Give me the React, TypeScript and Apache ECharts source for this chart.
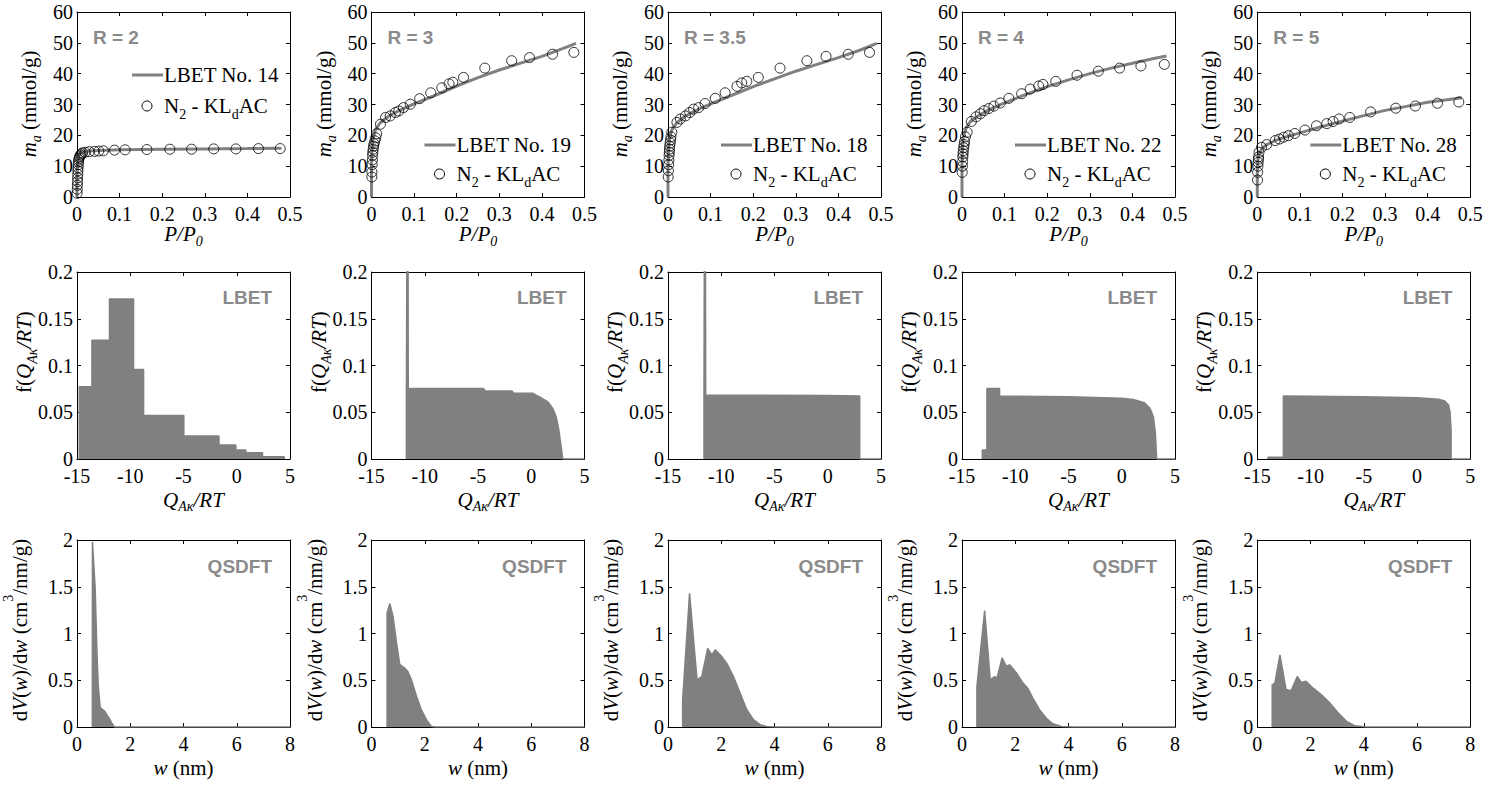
import React, { useEffect, useRef } from "react";
import * as echarts from "echarts";

// ---------------- DATA ----------------
// Row 1: N2 isotherms (P/P0 vs m_a, mmol/g)
const panelTags = ["R = 2", "R = 3", "R = 3.5", "R = 4", "R = 5"];
const lbetNames = ["LBET No. 14", "LBET No. 19", "LBET No. 18", "LBET No. 22", "LBET No. 28"];
const isoXTicks = [0, 0.5, 0.1];
const isoYTicks = [0, 60, 10];

const exp1X = [0.0003, 0.0006, 0.0009, 0.0012, 0.0015, 0.0018, 0.0021, 0.0025, 0.003, 0.0035, 0.004, 0.005, 0.006, 0.008, 0.01, 0.013, 0.019, 0.029, 0.041, 0.051, 0.062, 0.088, 0.113, 0.164, 0.218, 0.269, 0.321, 0.373, 0.426, 0.477];
const exp1Y = [1.2, 2.5, 3.8, 5.0, 6.2, 7.4, 8.5, 9.5, 10.5, 11.3, 12.0, 12.6, 13.1, 13.6, 14.0, 14.3, 14.5, 14.7, 14.8, 14.9, 15.0, 15.2, 15.3, 15.4, 15.5, 15.5, 15.6, 15.6, 15.7, 15.7];
const lbet1X = [0, 0, 0.001, 0.003, 0.006, 0.01, 0.02, 0.05, 0.1, 0.2, 0.3, 0.4, 0.48];
const lbet1Y = [0, 6, 11, 13.2, 14, 14.4, 14.8, 15.1, 15.3, 15.5, 15.6, 15.7, 15.8];

const exp2X = [0.0008, 0.001, 0.0015, 0.002, 0.0025, 0.003, 0.004, 0.005, 0.006, 0.008, 0.01, 0.012, 0.021, 0.033, 0.044, 0.056, 0.064, 0.075, 0.091, 0.113, 0.139, 0.165, 0.182, 0.191, 0.216, 0.266, 0.329, 0.371, 0.425, 0.475];
const exp2Y = [6.5, 8.1, 10.5, 12, 13.5, 14.5, 15.5, 16.5, 17.3, 18.2, 19.2, 20.5, 23.6, 25.8, 26.3, 27.4, 27.9, 29.0, 30.1, 31.9, 33.8, 35.4, 36.7, 37.2, 38.8, 41.8, 44.2, 45.2, 46.3, 46.9];
const lbet2X = [0, 0, 0.001, 0.003, 0.006, 0.01, 0.02, 0.04, 0.06, 0.08, 0.1, 0.15, 0.2, 0.25, 0.3, 0.35, 0.4, 0.45, 0.48];
const lbet2Y = [0, 10, 15, 18.5, 20.5, 22, 24, 26.2, 27.7, 29, 30.2, 33, 36, 38.7, 41.2, 43.4, 45.6, 48.2, 49.8];

const exp3X = [0.0005, 0.001, 0.0015, 0.002, 0.0025, 0.003, 0.0035, 0.004, 0.005, 0.006, 0.007, 0.009, 0.021, 0.029, 0.041, 0.051, 0.060, 0.072, 0.087, 0.111, 0.134, 0.162, 0.173, 0.185, 0.212, 0.263, 0.326, 0.371, 0.423, 0.473];
const exp3Y = [6.5, 8.5, 10.5, 12, 13.5, 14.5, 15.5, 16.5, 17.5, 18.5, 19.5, 21, 24.2, 25.3, 26.3, 27.4, 28.5, 29.0, 30.3, 32.0, 33.8, 35.9, 37.0, 37.5, 38.8, 41.8, 44.2, 45.6, 46.3, 46.9];
const lbet3X = [0, 0, 0.001, 0.003, 0.006, 0.01, 0.02, 0.04, 0.06, 0.08, 0.1, 0.15, 0.2, 0.25, 0.3, 0.35, 0.4, 0.45, 0.49];
const lbet3Y = [0, 10, 15, 18.5, 20.5, 22, 24, 26.2, 27.7, 29, 30.2, 33, 35.8, 38.3, 40.8, 43, 45.2, 47.6, 49.8];

const exp4X = [0.0005, 0.001, 0.0015, 0.002, 0.0025, 0.003, 0.004, 0.005, 0.006, 0.008, 0.012, 0.022, 0.033, 0.043, 0.052, 0.063, 0.075, 0.09, 0.11, 0.14, 0.16, 0.18, 0.19, 0.22, 0.27, 0.32, 0.37, 0.42, 0.475];
const exp4Y = [8, 10, 11.5, 13, 14, 15, 16, 17, 18, 19.5, 21, 24.5, 26, 27, 28, 28.7, 29.5, 30.5, 32, 33.5, 35, 36, 36.5, 37.5, 39.5, 40.8, 41.8, 42.5, 43];
const lbet4X = [0, 0, 0.001, 0.003, 0.01, 0.02, 0.04, 0.06, 0.08, 0.1, 0.15, 0.2, 0.25, 0.3, 0.35, 0.4, 0.45, 0.48];
const lbet4Y = [0, 10, 16, 19.5, 22.5, 24.5, 26.5, 28, 29.3, 30.5, 33.3, 35.8, 38, 40, 41.8, 43.4, 44.9, 45.7];

const exp5X = [0.0005, 0.001, 0.0015, 0.002, 0.0025, 0.003, 0.004, 0.010, 0.022, 0.042, 0.052, 0.062, 0.073, 0.088, 0.112, 0.139, 0.163, 0.178, 0.192, 0.217, 0.266, 0.325, 0.371, 0.423, 0.473];
const exp5Y = [5.5, 8, 10, 11.2, 12.2, 13, 14.5, 16.1, 17.0, 18.3, 18.8, 19.4, 19.9, 20.6, 21.7, 23.1, 23.8, 24.5, 25.3, 25.8, 27.6, 28.8, 29.5, 30.4, 30.8];
const lbet5X = [0, 0, 0.001, 0.003, 0.01, 0.02, 0.04, 0.06, 0.08, 0.1, 0.15, 0.2, 0.25, 0.3, 0.35, 0.4, 0.45, 0.48];
const lbet5Y = [0, 8, 11.5, 13.5, 15.5, 16.8, 18.2, 19.2, 20, 20.8, 22.8, 24.6, 26.4, 28.1, 29.4, 30.7, 31.6, 32.2];

// Row 2: LBET energy distributions f(Q/RT)
const qXTicks = [-15, 5, 5];
const qYTicks = [0, 0.2, 0.05];
const hist1Edges = [-14.78, -13.6, -11.95, -9.69, -8.75, -4.97, -1.67, -0.09, 0.85, 2.42, 4.46];
const hist1Heights = [0.0772, 0.127, 0.171, 0.0958, 0.0466, 0.0246, 0.015, 0.0096, 0.0068, 0.0025];
const dist2Q = [-11.72, -11.72, -11.6, -11.55, -4.5, -4.3, -1.8, -1.65, 0.15, 0.78, 1.56, 2.02, 2.34, 2.59, 2.81, 2.96, 5];
const dist2F = [0, 0.0755, 0.5, 0.0755, 0.0755, 0.0726, 0.0726, 0.0702, 0.0702, 0.0665, 0.0612, 0.0541, 0.0452, 0.031, 0.0131, 0, 0];
const dist3Q = [-11.62, -11.62, -11.53, -11.46, 0, 3.0, 3.0, 5];
const dist3F = [0, 0.0685, 0.5, 0.0685, 0.068, 0.0675, 0, 0];
const dist4Q = [-13.09, -13.09, -12.66, -12.66, -11.47, -11.47, -5, 0, 1.06, 2.13, 2.66, 2.97, 3.16, 3.28, 5];
const dist4F = [0, 0.0096, 0.0096, 0.0755, 0.0755, 0.0673, 0.0665, 0.065, 0.0637, 0.0602, 0.0541, 0.0452, 0.0274, 0, 0];
const dist5Q = [-14.0, -14.0, -12.55, -12.55, -5, 0, 2.0, 2.6, 2.95, 3.1, 3.2, 3.2, 5];
const dist5F = [0, 0.002, 0.002, 0.0675, 0.0665, 0.0655, 0.064, 0.062, 0.058, 0.05, 0.03, 0, 0];

// Row 3: QSDFT pore size distributions dV/dw
const wXTicks = [0, 8, 2];
const wYTicks = [0, 2, 0.5];
const psd1W = [0.577, 0.58, 0.68, 0.75, 0.80, 0.87, 0.95, 1.05, 1.15, 1.24, 1.32, 1.41, 8];
const psd1V = [0, 1.98, 1.5, 0.79, 0.43, 0.21, 0.19, 0.165, 0.12, 0.078, 0.035, 0, 0];
const psd2W = [0.585, 0.585, 0.69, 0.81, 0.94, 1.06, 1.25, 1.37, 1.5, 1.69, 1.87, 2.06, 2.25, 2.4, 8];
const psd2V = [0, 1.22, 1.32, 1.18, 0.9, 0.67, 0.63, 0.59, 0.505, 0.33, 0.185, 0.078, 0.006, 0, 0];
const psd3W = [0.55, 0.55, 0.81, 1.09, 1.27, 1.49, 1.65, 1.77, 2.03, 2.21, 2.46, 2.71, 2.96, 3.21, 3.46, 3.71, 4.1, 8];
const psd3V = [0, 0.29, 1.43, 0.505, 0.54, 0.84, 0.77, 0.825, 0.75, 0.68, 0.54, 0.36, 0.185, 0.078, 0.025, 0.006, 0, 0];
const psd4W = [0.56, 0.56, 0.85, 1.06, 1.23, 1.31, 1.51, 1.66, 1.79, 2.04, 2.29, 2.47, 2.66, 2.91, 3.16, 3.41, 3.73, 4.16, 8];
const psd4V = [0, 0.43, 1.245, 0.505, 0.54, 0.52, 0.74, 0.65, 0.665, 0.58, 0.47, 0.415, 0.31, 0.185, 0.096, 0.035, 0.006, 0, 0];
const psd5W = [0.56, 0.56, 0.66, 0.85, 1.08, 1.23, 1.29, 1.5, 1.66, 1.83, 2.1, 2.41, 2.73, 3.04, 3.35, 3.66, 4.1, 8];
const psd5V = [0, 0.45, 0.47, 0.77, 0.40, 0.39, 0.40, 0.54, 0.475, 0.49, 0.415, 0.345, 0.255, 0.15, 0.06, 0.014, 0, 0];

// ---------------- STYLE / LAYOUT ----------------
const GRAY = "#808080";
const TAG_GRAY = "#8a8a8a";
const SERIF = "Liberation Serif";
const SANS = "Liberation Sans";
const FS = 21;
const TFS = 20;
const SFS = 14;
const COL_LEFT = [77, 371.5, 668, 962, 1257.3];
const PW = 213;
const ROW_TOP = [12, 272, 540];
const ROW_H = [185, 187, 187];

function pairs(xs: number[], ys: number[]) {
  return xs.map((x, i) => [x, ys[i]]);
}
function histPairs(edges: number[], h: number[]) {
  const out: number[][] = [[edges[0], 0]];
  for (let i = 0; i < h.length; i++) {
    out.push([edges[i], h[i]]);
    out.push([edges[i + 1], h[i]]);
  }
  out.push([edges[edges.length - 1], 0]);
  return out;
}

function rich(L: number, sl: number) {
  return {
    n: { fontFamily: SERIF, fontSize: FS, lineHeight: L, fill: "#000" },
    i: { fontFamily: SERIF, fontSize: FS, lineHeight: L, fontStyle: "italic", fill: "#000" },
    s: { fontFamily: SERIF, fontSize: SFS, lineHeight: sl, verticalAlign: "bottom", fill: "#000" },
    si: { fontFamily: SERIF, fontSize: SFS, lineHeight: sl, verticalAlign: "bottom", fontStyle: "italic", fill: "#000" },
    p: { fontFamily: SERIF, fontSize: SFS, lineHeight: sl, verticalAlign: "top", fill: "#000" },
  };
}

function txt(x: number, y: number, text: string, L: number, rot = 0, align = "center", sl = 14) {
  return {
    type: "text",
    x,
    y,
    rotation: rot,
    silent: true,
    z: 50,
    style: { text, rich: rich(L, sl), align, verticalAlign: "middle", fill: "#000", fontFamily: SERIF, fontSize: FS },
  };
}

function buildOption() {
  const grid: any[] = [];
  const xAxis: any[] = [];
  const yAxis: any[] = [];
  const series: any[] = [];
  const graphic: any[] = [];

  const axisBase = (gi: number, t: number[], pos: string, labels: boolean, margin: number, lh: number) => ({
    type: "value",
    gridIndex: gi,
    min: t[0],
    max: t[1],
    interval: t[2],
    position: pos,
    axisLine: { show: true, onZero: false, lineStyle: { color: "#000", width: 1 } },
    axisTick: { show: true, inside: true, length: 4, lineStyle: { color: "#000", width: 1 } },
    axisLabel: { show: labels, margin, color: "#000", fontFamily: SERIF, fontSize: TFS, lineHeight: lh },
    splitLine: { show: false },
    axisPointer: { show: false },
  });

  const addGrid = (r: number, c: number, xt: number[], yt: number[]) => {
    const gi = grid.length;
    grid.push({ left: COL_LEFT[c], top: ROW_TOP[r], width: PW, height: ROW_H[r], containLabel: false, outerBoundsMode: "none" });
    xAxis.push(axisBase(gi, xt, "bottom", true, 8, 18));
    xAxis.push(axisBase(gi, xt, "top", false, 8, 18));
    yAxis.push(axisBase(gi, yt, "left", true, 4, 16));
    yAxis.push(axisBase(gi, yt, "right", false, 4, 16));
    return 2 * gi;
  };

  const expX = [exp1X, exp2X, exp3X, exp4X, exp5X];
  const expY = [exp1Y, exp2Y, exp3Y, exp4Y, exp5Y];
  const lbX = [lbet1X, lbet2X, lbet3X, lbet4X, lbet5X];
  const lbY = [lbet1Y, lbet2Y, lbet3Y, lbet4Y, lbet5Y];
  const distData = [
    histPairs(hist1Edges, hist1Heights),
    pairs(dist2Q, dist2F),
    pairs(dist3Q, dist3F),
    pairs(dist4Q, dist4F),
    pairs(dist5Q, dist5F),
  ];
  const psdData = [
    pairs(psd1W, psd1V),
    pairs(psd2W, psd2V),
    pairs(psd3W, psd3V),
    pairs(psd4W, psd4V),
    pairs(psd5W, psd5V),
  ];

  for (let c = 0; c < 5; c++) {
    const L = COL_LEFT[c];
    const R = L + PW;
    const cx = L + PW / 2;

    // Row 1
    let ai = addGrid(0, c, isoXTicks, isoYTicks);
    series.push({
      type: "line",
      xAxisIndex: ai,
      yAxisIndex: ai,
      data: pairs(lbX[c], lbY[c]),
      showSymbol: false,
      symbol: "none",
      lineStyle: { color: GRAY, width: 3 },
      silent: true,
      z: 2,
    });
    series.push({
      type: "scatter",
      xAxisIndex: ai,
      yAxisIndex: ai,
      data: pairs(expX[c], expY[c]),
      symbol: "circle",
      symbolSize: 10,
      itemStyle: { color: "rgba(255,255,255,0)", borderColor: "#000", borderWidth: 1 },
      silent: true,
      z: 3,
    });
    graphic.push({
      type: "text", x: L + 16, y: 37, silent: true,
      style: { text: panelTags[c], fill: TAG_GRAY, fontFamily: SANS, fontWeight: "bold", fontSize: 19, align: "left", verticalAlign: "middle" },
    });
    const lx = c === 0 ? L + 55 : L + 53;
    const ly1 = c === 0 ? 75 : 145;
    const ly2 = c === 0 ? 106 : 174;
    graphic.push({ type: "line", silent: true, shape: { x1: lx, y1: ly1, x2: lx + 31, y2: ly1 }, style: { stroke: GRAY, lineWidth: 3 } });
    graphic.push(txt(lx + 32, ly1, `{n|${lbetNames[c]}}`, 24, 0, "left"));
    graphic.push({ type: "circle", silent: true, shape: { cx: lx + 15, cy: ly2, r: 5 }, style: { fill: "none", stroke: "#000", lineWidth: 1 } });
    graphic.push(txt(lx + 32, ly2, "{n|N}{s|2}{n| - KL}{s|d}{n|AC}", 30, 0, "left"));
    graphic.push(txt(L - 48, 104, "{i|m}{si|a}{n| (mmol/g)}", 29, Math.PI / 2));
    graphic.push(txt(cx, 234, "{i|P/P}{si|0}", 28, 0, "center", 11));

    // Row 2
    ai = addGrid(1, c, qXTicks, qYTicks);
    series.push({
      type: "line",
      xAxisIndex: ai,
      yAxisIndex: ai,
      data: distData[c],
      showSymbol: false,
      symbol: "none",
      lineStyle: { color: GRAY, width: 1.5 },
      areaStyle: { color: GRAY, opacity: 1 },
      silent: true,
      clip: true,
    });
    graphic.push({
      type: "text", x: R - 18, y: 297, silent: true,
      style: { text: "LBET", fill: TAG_GRAY, fontFamily: SANS, fontWeight: "bold", fontSize: 19, align: "right", verticalAlign: "middle" },
    });
    graphic.push(txt(L - 53, 352, "{n|f(}{i|Q}{si|Aκ}{i|/RT}{n|)}", 30, Math.PI / 2));
    graphic.push(txt(cx + 10, 500, "{i|Q}{si|Aκ}{i|/RT}", 26, 0, "center", 10));

    // Row 3
    ai = addGrid(2, c, wXTicks, wYTicks);
    series.push({
      type: "line",
      xAxisIndex: ai,
      yAxisIndex: ai,
      data: psdData[c],
      showSymbol: false,
      symbol: "none",
      lineStyle: { color: GRAY, width: 1.5 },
      areaStyle: { color: GRAY, opacity: 1 },
      silent: true,
      clip: true,
    });
    graphic.push({
      type: "text", x: R - 18, y: 566, silent: true,
      style: { text: "QSDFT", fill: TAG_GRAY, fontFamily: SANS, fontWeight: "bold", fontSize: 19, align: "right", verticalAlign: "middle" },
    });
    graphic.push(txt(L - 57, 630, "{n|d}{i|V}{n|(}{i|w}{n|)/d}{i|w}{n| (cm}{p|3}{n|/nm/g)}", 38, Math.PI / 2));
    graphic.push(txt(cx, 768, "{i|w}{n| (nm)}", 24));
  }

  return {
    animation: false,
    backgroundColor: "#ffffff",
    grid,
    xAxis,
    yAxis,
    series,
    graphic,
  };
}

export default function App() {
  const ref = useRef<HTMLDivElement>(null);
  useEffect(() => {
    if (!ref.current) return;
    const chart = echarts.init(ref.current, null, { renderer: "svg" });
    chart.setOption(buildOption() as any);
    return () => chart.dispose();
  }, []);
  return <div ref={ref} style={{ position: "absolute", left: 0, top: 0, width: 1512, height: 787, background: "#fff" }} />;
}
